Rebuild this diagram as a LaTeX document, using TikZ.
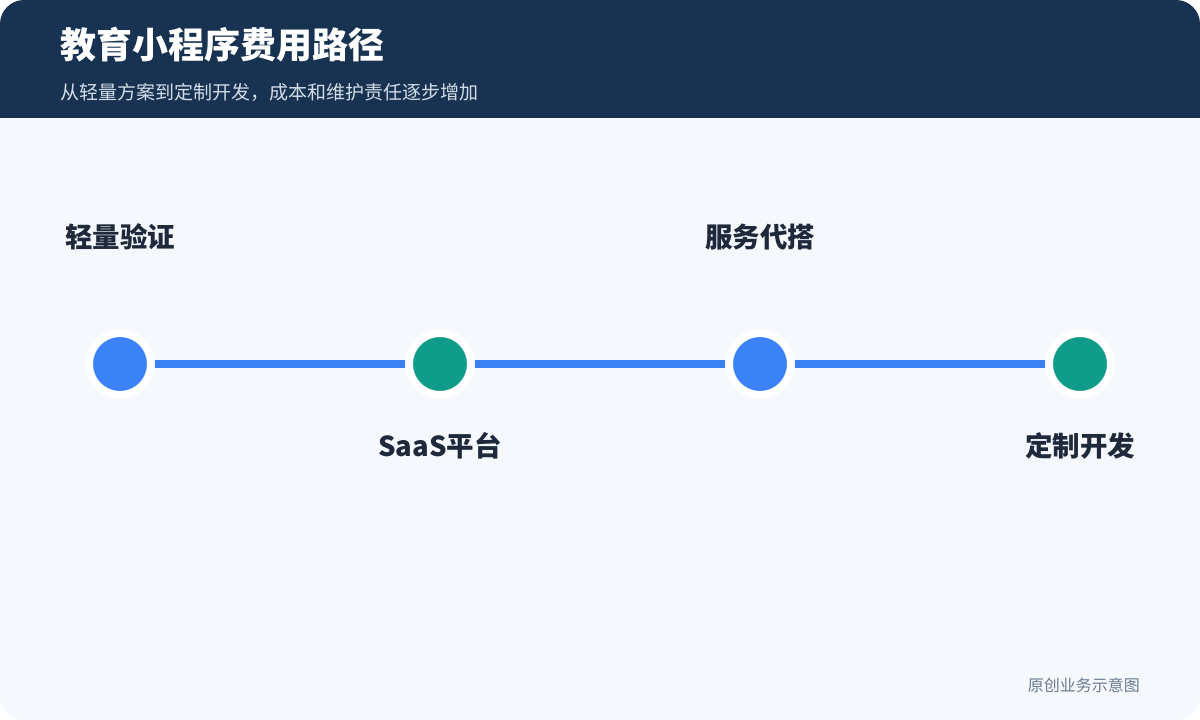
\documentclass[tikz,border=0pt]{standalone}
\usepackage{fontspec}
\setmainfont{Noto Sans CJK SC}
\definecolor{hdr}{HTML}{183352}
\definecolor{bgc}{HTML}{F5F8FD}
\definecolor{blu}{HTML}{3B82F6}
\definecolor{tea}{HTML}{0F9C88}
\definecolor{lab}{HTML}{1E293B}
\definecolor{sub}{HTML}{D3DDE8}
\definecolor{foot}{HTML}{6B7B90}
\begin{document}
\begin{tikzpicture}[x=1pt,y=-1pt,
  dot/.style={circle,minimum size=62pt,inner sep=0pt,draw=white,line width=8pt},
  conn/.style={line width=8pt,draw=blu},
  lbl/.style={font=\bfseries\fontsize{27.5}{31}\selectfont,text=lab,inner sep=0pt}]
\useasboundingbox (0,0) rectangle (1200,720);
\fill[white] (0,0) rectangle (1200,720);
\begin{scope}
\clip[rounded corners=24pt] (0,0) rectangle (1200,720);
\fill[bgc] (0,0) rectangle (1200,720);
\fill[hdr] (0,0) rectangle (1200,118);
\end{scope}
\node[anchor=west,inner sep=0pt,text=white,font=\bfseries\fontsize{36}{40}\selectfont] (title) at (60,45) {教育小程序费用路径};
\node[anchor=west,inner sep=0pt,text=sub,font=\fontsize{19}{22}\selectfont] (subtitle) at (60,92) {从轻量方案到定制开发，成本和维护责任逐步增加};
\node[dot,fill=blu] (a) at (120,364) {};
\node[dot,fill=tea] (b) at (440,364) {};
\node[dot,fill=blu] (c) at (760,364) {};
\node[dot,fill=tea] (d) at (1080,364) {};
\path[conn] (a.east) -- (b.west);
\path[conn] (b.east) -- (c.west);
\path[conn] (c.east) -- (d.west);
\node[lbl] (la) at (120,237) {轻量验证};
\node[lbl] (lb) at (440,446) {SaaS平台};
\node[lbl] (lc) at (760,237) {服务代搭};
\node[lbl] (ld) at (1080,446) {定制开发};
\node[anchor=east,inner sep=0pt,text=foot,font=\fontsize{16}{18}\selectfont] (footer) at (1140,685) {原创业务示意图};
\end{tikzpicture}
\end{document}
